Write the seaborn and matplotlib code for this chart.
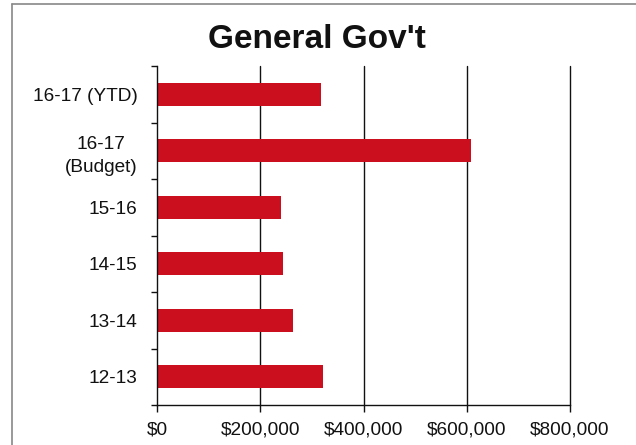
import matplotlib
matplotlib.use("Agg")
import matplotlib.pyplot as plt
from matplotlib.lines import Line2D
from matplotlib.ticker import FuncFormatter, FixedLocator
import seaborn as sns
import pandas as pd

# Spending by fiscal year
categories = ["16-17 (YTD)", "16-17\n(Budget)", "15-16", "14-15", "13-14", "12-13"]
amounts = [317000, 609000, 240000, 245000, 263000, 321000]
x_ticks = [0, 200000, 400000, 600000, 800000]

sns.set_theme(style="white")
plt.rcParams["font.family"] = ["Liberation Sans", "DejaVu Sans"]

df = pd.DataFrame({"year": categories, "amount": amounts})

fig = plt.figure(figsize=(6.36, 4.45), dpi=100)
ax = fig.add_axes([157 / 636, 1 - 405 / 445, (570 - 157) / 636, (405 - 66) / 445])

sns.barplot(data=df, x="amount", y="year", order=categories, orient="h",
            color="#CC0F1E", saturation=1, width=0.4, edgecolor="none", ax=ax)

ax.set_xlim(0, 800000)
ax.set_ylim(len(categories) - 0.5, -0.5)
ax.set_xticks(x_ticks)
ax.xaxis.set_major_formatter(FuncFormatter(lambda v, p: f"${v:,.0f}"))
ax.set_xlabel("")
ax.set_ylabel("")

# vertical gridlines
for v in x_ticks[1:]:
    ax.axvline(v, color="#111111", lw=1.0, zorder=0, clip_on=False)

for side in ("top", "right"):
    ax.spines[side].set_visible(False)
for side in ("left", "bottom"):
    ax.spines[side].set_color("#111111")
    ax.spines[side].set_linewidth(1.0)

ax.tick_params(axis="x", which="major", direction="out", length=5, width=1,
               color="#111111", labelsize=13.7, pad=7, bottom=True, labelcolor="#111111")
ax.tick_params(axis="y", which="major", length=0, labelsize=13.7, pad=14,
               labelcolor="#111111")
for lab in ax.get_yticklabels():
    lab.set_multialignment("center")
    lab.set_linespacing(1.45)
ax.yaxis.set_minor_locator(FixedLocator([i - 0.5 for i in range(len(categories) + 1)]))
ax.tick_params(axis="y", which="minor", direction="out", length=4, width=1,
               color="#111111", left=True)

fig.text(317 / 636, 1 - 40 / 445, "General Gov't", ha="center", va="center",
         fontsize=24, fontweight="bold", color="#111111")

# frame around the chart
fig.add_artist(Line2D([12 / 636, 12 / 636], [0, 1 - 4 / 445], transform=fig.transFigure,
                      color="#888888", lw=1.2))
fig.add_artist(Line2D([12 / 636, 1], [1 - 4 / 445, 1 - 4 / 445], transform=fig.transFigure,
                      color="#888888", lw=1.2))

fig.savefig("out.png", dpi=100)
